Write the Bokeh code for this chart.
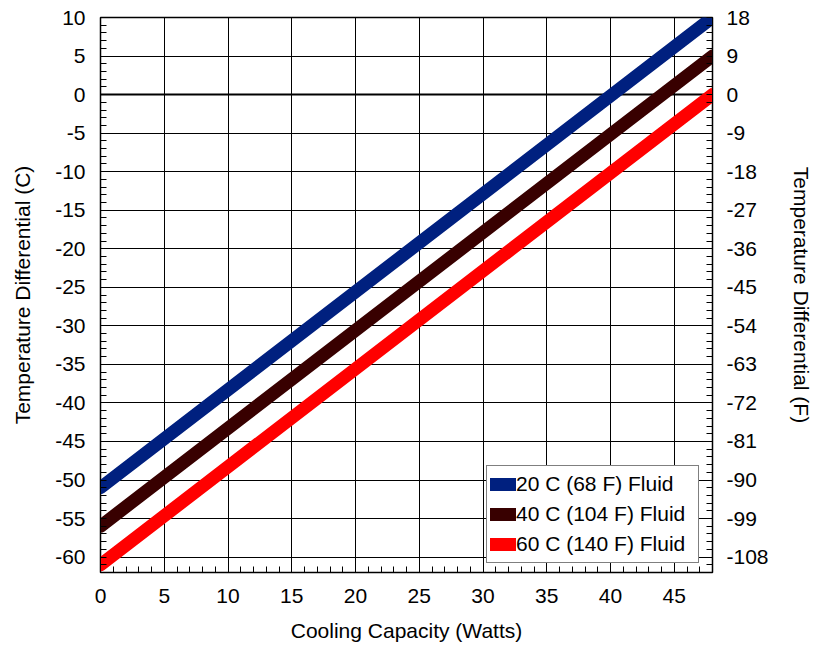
from bokeh.plotting import figure
from bokeh.models import Range1d, LinearAxis, FixedTicker, Span, Legend, LegendItem
from bokeh.embed import file_html
from bokeh.resources import INLINE

# Data
capacity_w = [0, 48]
fluid_20c = [-51, 10]
fluid_40c = [-56, 5]
fluid_60c = [-61, 0]
series_labels = ["20 C (68 F) Fluid", "40 C (104 F) Fluid", "60 C (140 F) Fluid"]
series_colors = ["#00207f", "#380000", "#ff0000"]
x_ticks = [0, 5, 10, 15, 20, 25, 30, 35, 40, 45]
y_ticks_c = [10, 5, 0, -5, -10, -15, -20, -25, -30, -35, -40, -45, -50, -55, -60]
y_ticks_f = [18, 9, 0, -9, -18, -27, -36, -45, -54, -63, -72, -81, -90, -99, -108]

FONT = "Liberation Sans"
FS = "21px"

p = figure(width=827, height=646, output_backend="svg", toolbar_location=None,
           x_range=Range1d(0, 48), y_range=Range1d(-62, 10),
           min_border_left=100, min_border_right=115, min_border_top=17, min_border_bottom=74,
           background_fill_color="white", border_fill_color="white")
p.extra_y_ranges = {"f": Range1d(-62 * 1.8, 10 * 1.8)}

p.outline_line_color = "black"
p.outline_line_width = 1.5

left = p.left[0]
bottom = p.below[0]

bottom.ticker = FixedTicker(ticks=x_ticks, minor_ticks=list(range(0, 49)))
left.ticker = FixedTicker(ticks=y_ticks_c, minor_ticks=list(range(-62, 11)))
left.major_label_overrides = {v: str(v) for v in y_ticks_c}

right = LinearAxis(y_range_name="f",
                   ticker=FixedTicker(ticks=y_ticks_f, minor_ticks=[v * 1.8 for v in range(-62, 11)]),
                   axis_label="Temperature Differential (F)")
right.major_label_overrides = {v: str(v) for v in y_ticks_f}
p.add_layout(right, "right")

bottom.axis_label = "Cooling Capacity (Watts)"
left.axis_label = "Temperature Differential (C)"

for ax in [left, bottom, right]:
    ax.axis_line_color = "black"
    ax.major_tick_in = 0
    ax.major_tick_out = 0
    ax.minor_tick_in = 6
    ax.minor_tick_out = 0
    ax.minor_tick_line_color = "black"
    ax.major_label_text_font = FONT
    ax.major_label_text_font_size = FS
    ax.major_label_text_color = "black"
    ax.axis_label_text_font = FONT
    ax.axis_label_text_font_size = FS
    ax.axis_label_text_font_style = "normal"
    ax.axis_label_text_color = "black"

bottom.major_label_standoff = 16
bottom.axis_label_standoff = 13
left.major_label_standoff = 15
left.axis_label_standoff = 18
right.major_label_standoff = 14
right.axis_label_standoff = 18

p.xgrid.grid_line_color = "black"
p.ygrid.grid_line_color = "black"
p.xgrid.grid_line_width = 1
p.ygrid.grid_line_width = 1
p.xgrid.grid_line_alpha = 1
p.ygrid.grid_line_alpha = 1

p.add_layout(Span(location=0, dimension="width", line_color="black", line_width=2, level="underlay"))

renderers = []
for ys, c in zip([fluid_20c, fluid_40c, fluid_60c], series_colors):
    r = p.line(capacity_w, ys, line_color=c, line_width=13, line_cap="round")
    renderers.append(r)

legend = Legend(items=[LegendItem(label=l, renderers=[r]) for l, r in zip(series_labels, renderers)],
                location=(386, 9), padding=3, spacing=0, margin=0,
                label_height=30, label_width=179, glyph_width=26, glyph_height=30,
                label_standoff=0, label_text_font=FONT, label_text_font_size=FS,
                label_text_color="black", border_line_color="black", border_line_width=1,
                background_fill_color="white", background_fill_alpha=1)
p.add_layout(legend, "center")

open("out.html", "w").write(file_html(p, INLINE))
